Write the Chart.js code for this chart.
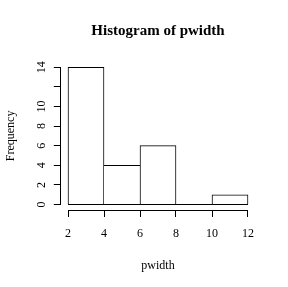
<!DOCTYPE html>
<html>
<head>
<meta charset="utf-8">
<script src="https://cdn.jsdelivr.net/npm/chart.js@4/dist/chart.umd.min.js"></script>
<style>
  html, body { margin: 0; padding: 0; background: #fff; }
  #wrap { width: 288px; height: 287px; }
</style>
</head>
<body>
<div id="wrap"><canvas id="hist"></canvas></div>
<script>
const binEdges = [2, 4, 6, 8, 10, 12];
const counts = [14, 4, 6, 0, 1];
const xTicks = [2, 4, 6, 8, 10, 12];
const yTicks = [0, 2, 4, 6, 8, 10, 12, 14];
const yTickLabels = ['0', '2', '4', '6', '8', '10', '', '14'];

const serif = 'Liberation Serif';

// R pads the plotting range by 4% on each side
const xPad = (binEdges[binEdges.length - 1] - binEdges[0]) * 0.04;
const yPad = Math.max(...counts) * 0.04;

const barData = counts.map((c, i) => ({x: (binEdges[i] + binEdges[i + 1]) / 2, y: c}));

// draw each shared edge only once, by the taller neighbour; bottom comes from the baseline
function edges(ctx) {
  const i = ctx.dataIndex;
  const c = counts[i];
  return {
    top: 1,
    bottom: 0,
    left: (i === 0 || c > counts[i - 1]) ? 1 : 0,
    right: (i === counts.length - 1 || c >= counts[i + 1]) ? 1 : 0
  };
}

const align = (p) => Math.round(p - 0.5) + 0.5;

const rAxes = {
  id: 'rAxes',
  afterDraw(chart) {
    const {ctx, chartArea, scales} = chart;
    ctx.save();
    ctx.strokeStyle = '#000';
    ctx.lineWidth = 1;
    ctx.beginPath();
    const xl = align(chartArea.left);
    ctx.moveTo(xl, align(scales.y.getPixelForValue(yTicks[0])));
    ctx.lineTo(xl, align(scales.y.getPixelForValue(yTicks[yTicks.length - 1])));
    const yb = align(chartArea.bottom);
    ctx.moveTo(align(scales.x.getPixelForValue(xTicks[0])), yb);
    ctx.lineTo(align(scales.x.getPixelForValue(xTicks[xTicks.length - 1])), yb);
    ctx.stroke();
    ctx.restore();
  }
};

new Chart(document.getElementById('hist'), {
  type: 'bar',
  data: {
    datasets: [{
      type: 'line',
      data: [{x: binEdges[0], y: 0}, {x: binEdges[binEdges.length - 1], y: 0}],
      borderColor: '#000',
      borderWidth: 1,
      pointRadius: 0
    }, {
      data: barData,
      backgroundColor: '#fff',
      borderColor: '#000',
      borderWidth: edges,
      borderSkipped: false,
      barPercentage: 1,
      categoryPercentage: 1
    }]
  },
  options: {
    responsive: true,
    maintainAspectRatio: false,
    animation: false,
    layout: { padding: { left: 0, right: 32.8, top: 0, bottom: 0 } },
    plugins: {
      legend: { display: false },
      tooltip: { enabled: false },
      title: {
        display: true,
        text: 'Histogram of pwidth',
        fullSize: false,
        color: '#000',
        font: { family: serif, size: 15, weight: 'bold' },
        padding: { top: 22, bottom: 21.8 }
      }
    },
    scales: {
      x: {
        type: 'linear',
        offset: false,
        min: binEdges[0] - xPad,
        max: binEdges[binEdges.length - 1] + xPad,
        afterBuildTicks: s => { s.ticks = xTicks.map(v => ({value: v})); },
        afterFit: s => { s.height = 77; },
        border: { display: false },
        grid: { offset: false, drawOnChartArea: false, drawTicks: true, tickLength: 7, color: '#000', lineWidth: 1 },
        ticks: {
          color: '#000',
          font: { family: serif, size: 12 },
          padding: 10,
          maxRotation: 0,
          autoSkip: false
        },
        title: {
          display: true,
          text: 'pwidth',
          color: '#000',
          font: { family: serif, size: 12 },
          padding: { top: 14, bottom: 14 }
        }
      },
      y: {
        type: 'linear',
        min: -yPad,
        max: Math.max(...counts) + yPad,
        afterBuildTicks: s => { s.ticks = yTicks.map(v => ({value: v})); },
        afterFit: s => { s.width = 60.8; },
        border: { display: false },
        grid: { drawOnChartArea: false, drawTicks: true, tickLength: 7, color: '#000', lineWidth: 1 },
        ticks: {
          color: '#000',
          font: { family: serif, size: 12 },
          padding: 6,
          minRotation: 90,
          maxRotation: 90,
          crossAlign: 'center',
          autoSkip: false,
          callback: (v, i) => yTickLabels[i]
        },
        title: {
          display: true,
          text: 'Frequency',
          color: '#000',
          font: { family: serif, size: 12 },
          padding: { top: 4, bottom: 4 }
        }
      }
    }
  },
  plugins: [rAxes]
});
</script>
</body>
</html>
